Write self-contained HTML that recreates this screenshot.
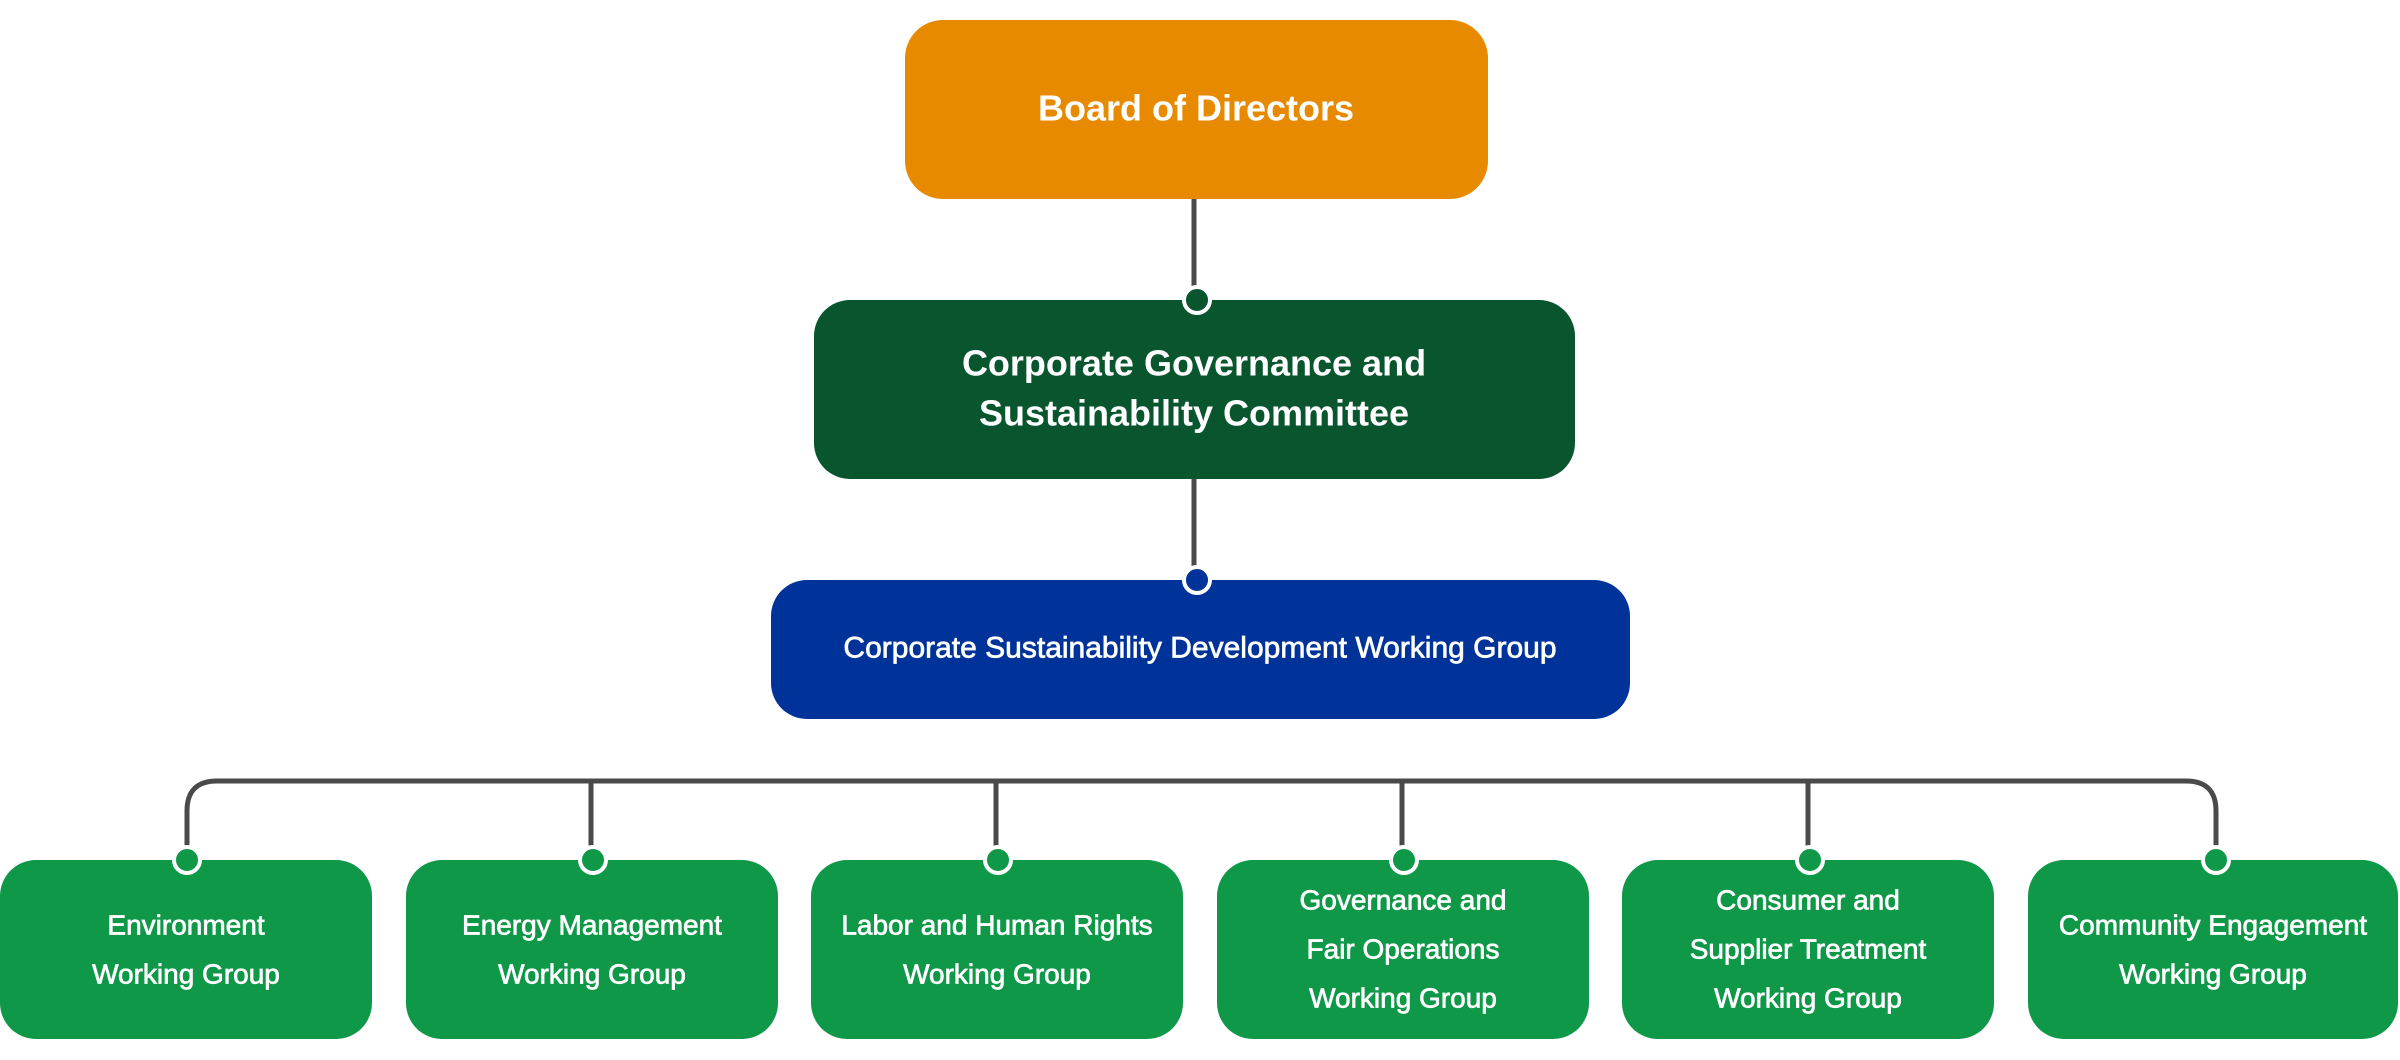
<!DOCTYPE html>
<html><head><meta charset="utf-8"><style>
html,body{margin:0;padding:0;background:#fff;}
svg{display:block;}
text{font-family:"Liberation Sans",sans-serif;fill:#fff;text-anchor:middle;dominant-baseline:central;}
.m{stroke:#fff;stroke-width:0.7;}
</style></head><body>
<svg width="2400" height="1060" viewBox="0 0 2400 1060" xmlns="http://www.w3.org/2000/svg">
<g stroke="#4a4a4a" stroke-width="5" fill="none">
<line x1="1194" y1="199" x2="1194" y2="300"/>
<line x1="1194" y1="479" x2="1194" y2="580"/>
<path d="M187 860 V811 Q187 781 217 781 H2186 Q2216 781 2216 811 V860"/>
<line x1="591" y1="781" x2="591" y2="860"/>
<line x1="996" y1="781" x2="996" y2="860"/>
<line x1="1402" y1="781" x2="1402" y2="860"/>
<line x1="1808" y1="781" x2="1808" y2="860"/>
</g>
<rect x="905" y="20" width="583" height="179" rx="38" fill="#E88A00"/>
<text x="1196" y="108" font-size="36" font-weight="bold">Board of Directors</text>
<rect x="814" y="300" width="761" height="179" rx="36" fill="#09552E"/>
<text x="1194" y="363" font-size="36" font-weight="bold">Corporate Governance and</text>
<text x="1194" y="413" font-size="36" font-weight="bold">Sustainability Committee</text>
<rect x="771" y="580" width="859" height="139" rx="36" fill="#003399"/>
<text class="m" x="1200" y="648" font-size="30">Corporate Sustainability Development Working Group</text>
<g fill="#0E9848">
<rect x="0" y="860" width="372" height="179" rx="36"/>
<rect x="406" y="860" width="372" height="179" rx="36"/>
<rect x="811" y="860" width="372" height="179" rx="36"/>
<rect x="1217" y="860" width="372" height="179" rx="36"/>
<rect x="1622" y="860" width="372" height="179" rx="36"/>
<rect x="2028" y="860" width="370" height="179" rx="36"/>
</g>
<g stroke="#fff" stroke-width="4">
<circle cx="1197" cy="300" r="13" fill="#09552E"/>
<circle cx="1197" cy="580" r="13" fill="#003399"/>
<g fill="#0E9848">
<circle cx="187" cy="860" r="13"/>
<circle cx="593" cy="860" r="13"/>
<circle cx="998" cy="860" r="13"/>
<circle cx="1404" cy="860" r="13"/>
<circle cx="1810" cy="860" r="13"/>
<circle cx="2216" cy="860" r="13"/>
</g>
</g>
<g font-size="28" class="m">
<text x="186" y="925">Environment</text>
<text x="186" y="974">Working Group</text>
<text x="592" y="925">Energy Management</text>
<text x="592" y="974">Working Group</text>
<text x="997" y="925">Labor and Human Rights</text>
<text x="997" y="974">Working Group</text>
<text x="1403" y="900">Governance and</text>
<text x="1403" y="949">Fair Operations</text>
<text x="1403" y="998">Working Group</text>
<text x="1808" y="900">Consumer and</text>
<text x="1808" y="949">Supplier Treatment</text>
<text x="1808" y="998">Working Group</text>
<text x="2213" y="925">Community Engagement</text>
<text x="2213" y="974">Working Group</text>
</g>
</svg>
</body></html>
